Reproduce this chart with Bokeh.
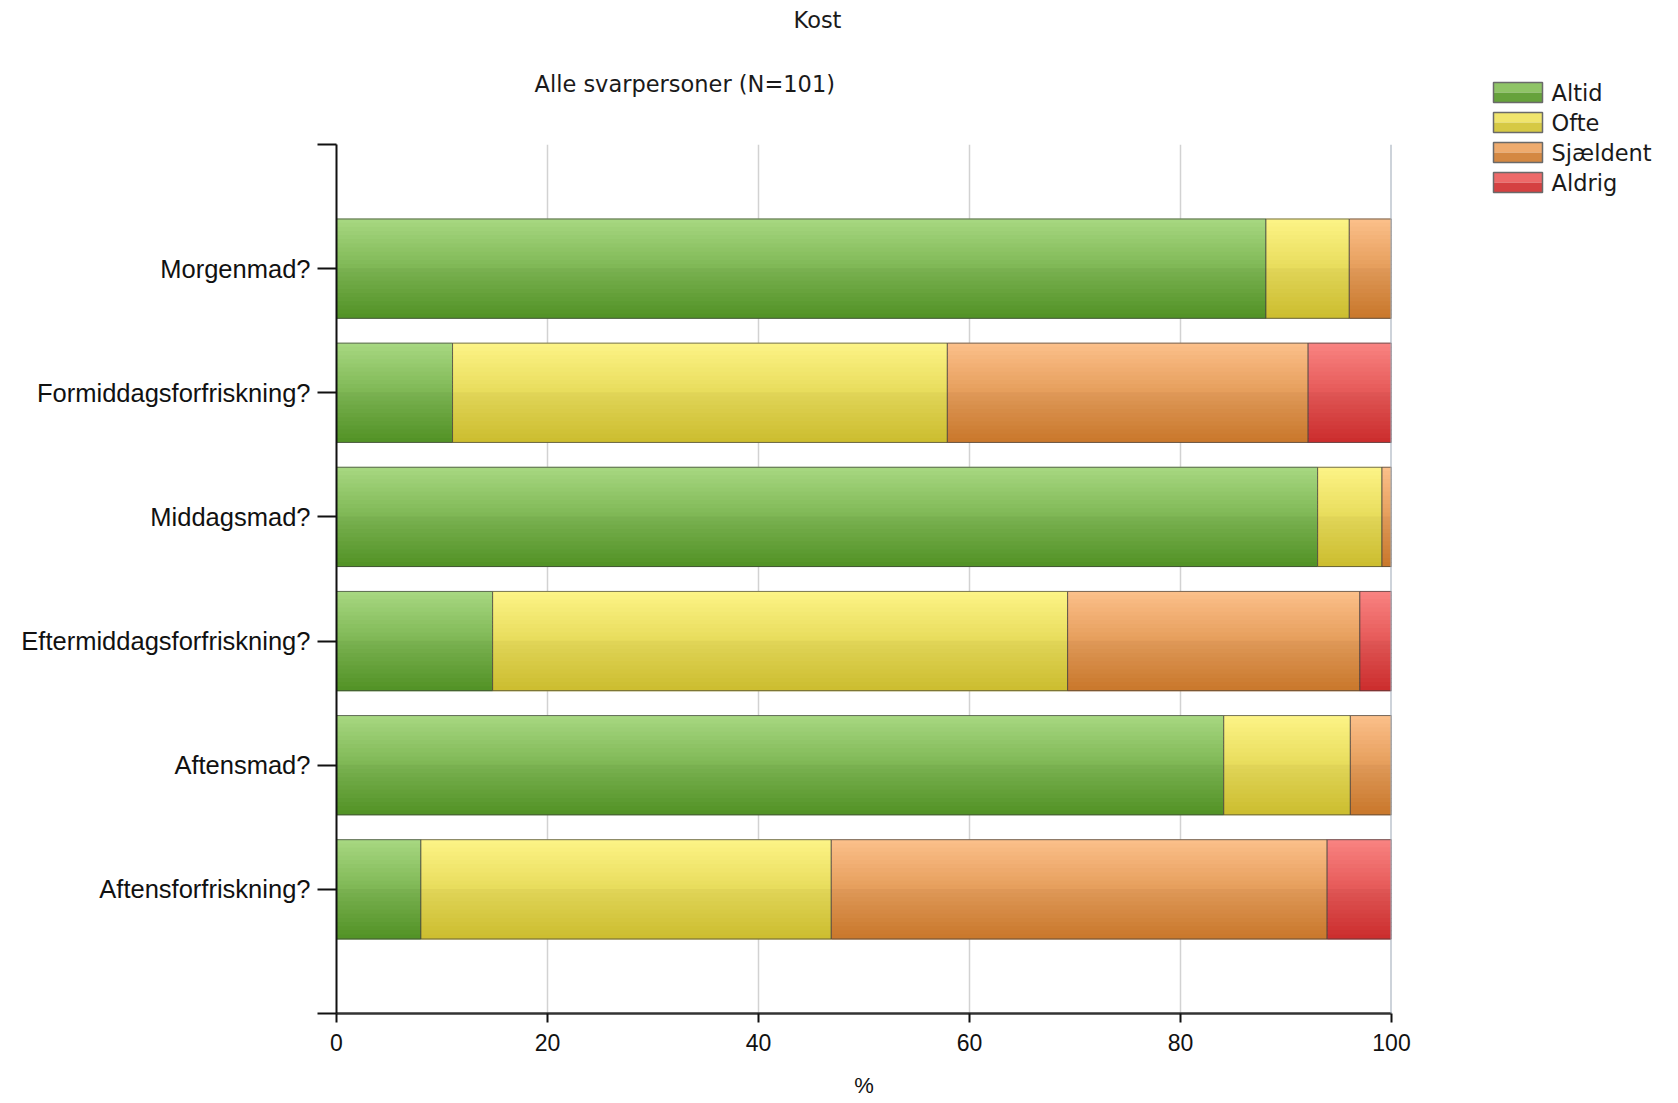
from bokeh.plotting import figure
from bokeh.models import ColumnDataSource, Span, FixedTicker, Range1d, Title
from bokeh.core.properties import value
from bokeh.layouts import row
from bokeh.embed import file_html
from bokeh.resources import INLINE

# ---- data ----
categories = ["Morgenmad?", "Formiddagsforfriskning?", "Middagsmad?",
              "Eftermiddagsforfriskning?", "Aftensmad?", "Aftensforfriskning?"]
series_names = ["Altid", "Ofte", "Sjældent", "Aldrig"]
altid = [88.1, 11.0, 93.0, 14.8, 84.1, 8.0]
ofte = [7.9, 46.9, 6.1, 54.5, 12.0, 38.9]
sjaeldent = [4.0, 34.2, 0.9, 27.7, 3.9, 47.0]
aldrig = [0.0, 7.9, 0.0, 3.0, 0.0, 6.1]
x_ticks = [0, 20, 40, 60, 80, 100]
title_text = "Kost"
subtitle_text = "Alle svarpersoner (N=101)"
x_label = "%"

# ---- styles ----
top_colors = [(168, 216, 130), (253, 244, 135), (252, 192, 139), (249, 132, 130)]
bottom_colors = [(84, 150, 38), (210, 195, 48), (207, 123, 44), (210, 46, 46)]
N_STRIPS = 24
BAR_H = 0.8
TITLE_FONT = "DejaVu Sans"
W_MAIN, W_LEG, H = 1480, 198, 1103

n = len(categories)
ypos = [n - i for i in range(n)]  # first category at the top
values = [altid, ofte, sjaeldent, aldrig]

p = figure(width=W_MAIN, height=H, output_backend="svg", toolbar_location=None,
           x_range=Range1d(0, 100), y_range=Range1d(0, n + 1),
           min_border_left=336, min_border_right=89, min_border_top=144,
           min_border_bottom=90)
p.outline_line_color = None
p.background_fill_color = "white"
p.border_fill_color = "white"
p.frame_align = False


def hexc(rgb):
    return "#%02x%02x%02x" % tuple(int(round(v)) for v in rgb)


def grad(k, t):
    col = [top_colors[k][c] + (bottom_colors[k][c] - top_colors[k][c]) * t for c in range(3)]
    if t >= 0.5:
        col = [v * 0.97 for v in col]
    return hexc(col)


# gradient strips
starts = [0.0] * n
for k, vals in enumerate(values):
    ys, ls, rs, cs = [], [], [], []
    sh = BAR_H / N_STRIPS
    for i in range(n):
        if vals[i] <= 0:
            continue
        left = starts[i]
        right = starts[i] + vals[i]
        for j in range(N_STRIPS):
            t = (j + 0.5) / N_STRIPS  # 0 top -> 1 bottom
            ys.append(ypos[i] + BAR_H / 2 - (j + 0.5) * sh)
            ls.append(left)
            rs.append(right)
            cs.append(grad(k, t))
    src = ColumnDataSource(dict(y=ys, left=ls, right=rs, color=cs))
    p.hbar(y="y", left="left", right="right", height=sh * 1.2, source=src,
           fill_color="color", line_color=None)
    # outlines
    oy, ol, orr = [], [], []
    for i in range(n):
        if vals[i] > 0:
            oy.append(ypos[i]); ol.append(starts[i]); orr.append(starts[i] + vals[i])
    p.hbar(y=oy, left=ol, right=orr, height=BAR_H, fill_alpha=0,
           line_color="#3c3c3c", line_alpha=0.7, line_width=1)
    for i in range(n):
        starts[i] += vals[i]

# grid
p.ygrid.grid_line_color = None
p.xgrid.ticker = FixedTicker(ticks=x_ticks)
p.xgrid.grid_line_color = "#d2d2d2"
p.xgrid.grid_line_width = 1.5
p.add_layout(Span(location=100, dimension="height", line_color="#9ba8b6", line_width=2))

# axes
p.xaxis.ticker = FixedTicker(ticks=x_ticks)
p.xaxis.axis_label = x_label
p.xaxis.axis_label_text_font = "Liberation Sans"
p.xaxis.axis_label_text_font_style = "normal"
p.xaxis.axis_label_text_font_size = "22px"
p.xaxis.axis_label_text_color = "#111111"
p.xaxis.axis_label_standoff = 19
p.xaxis.major_label_text_font = "Liberation Sans"
p.xaxis.major_label_text_font_size = "23px"
p.xaxis.major_label_text_color = "#111111"
p.xaxis.major_label_standoff = 11
p.xaxis.major_tick_out = 9
p.xaxis.major_tick_in = 0
p.xaxis.minor_tick_line_color = None
p.xaxis.axis_line_width = 2.5
p.xaxis.axis_line_color = "#333333"
p.xaxis.major_tick_line_width = 2
p.xaxis.major_tick_line_color = "#111111"

p.yaxis.ticker = FixedTicker(ticks=list(range(0, n + 2)))
overrides = {0: "", n + 1: ""}
for i, c in enumerate(categories):
    overrides[ypos[i]] = c
p.yaxis.major_label_overrides = overrides
p.yaxis.major_label_text_font = "Liberation Sans"
p.yaxis.major_label_text_font_size = "25.5px"
p.yaxis.major_label_text_color = "#111111"
p.yaxis.major_label_standoff = 7
p.yaxis.major_tick_out = 19
p.yaxis.major_tick_in = 0
p.yaxis.minor_tick_line_color = None
p.yaxis.axis_line_width = 2
p.yaxis.axis_line_color = "#111111"
p.yaxis.major_tick_line_width = 2
p.yaxis.major_tick_line_color = "#111111"

# titles (first added sits nearest the frame)
p.add_layout(Title(text=subtitle_text, align="left", offset=198, standoff=91,
                   vertical_align="top",
                   text_font=TITLE_FONT, text_font_size="22.5px",
                   text_font_style="normal", text_color="#1a1a1a"), "above")
p.add_layout(Title(text=title_text, align="left", offset=457, standoff=-15,
                   vertical_align="bottom",
                   text_font=TITLE_FONT, text_font_size="22.5px",
                   text_font_style="normal", text_color="#1a1a1a"), "above")

# legend panel (drawn with glyphs; coordinates = pixels from the page's top-left)
lg = figure(width=W_LEG, height=H, output_backend="svg", toolbar_location=None,
            x_range=Range1d(W_MAIN, W_MAIN + W_LEG), y_range=Range1d(H, 0),
            x_axis_location=None, y_axis_location=None, min_border=0)
lg.outline_line_color = None
lg.grid.grid_line_color = None
lg.title.visible = False
lg.frame_align = False

LEG_TOP, LEG_PITCH, SW_H = 82, 30, 20
SW_LEFT, SW_W, TXT_GAP = 1493, 49, 9
idx = list(range(len(series_names)))
sw_top = [LEG_TOP + LEG_PITCH * i for i in idx]
lsrc = ColumnDataSource(dict(
    left=[SW_LEFT] * len(idx), right=[SW_LEFT + SW_W] * len(idx),
    top=sw_top, bottom=[t + SW_H for t in sw_top], name=series_names,
    tx=[SW_LEFT + SW_W + TXT_GAP] * len(idx), ty=[t + SW_H / 2 for t in sw_top]))
lsrc_top = ColumnDataSource(dict(
    left=[SW_LEFT] * len(idx), right=[SW_LEFT + SW_W] * len(idx),
    top=sw_top, bottom=[t + SW_H / 2 for t in sw_top],
    color=[grad(k, 0.3) for k in idx]))
lsrc_bot = ColumnDataSource(dict(
    left=[SW_LEFT] * len(idx), right=[SW_LEFT + SW_W] * len(idx),
    top=[t + SW_H / 2 for t in sw_top], bottom=[t + SW_H for t in sw_top],
    color=[grad(k, 0.75) for k in idx]))
lg.quad(left="left", right="right", top="top", bottom="bottom", source=lsrc_top,
        fill_color="color", line_color=None)
lg.quad(left="left", right="right", top="top", bottom="bottom", source=lsrc_bot,
        fill_color="color", line_color=None)
lg.quad(left="left", right="right", top="top", bottom="bottom", source=lsrc,
        fill_alpha=0, line_color="#6a6a6a", line_width=1.5)
lg.text(x="tx", y="ty", text="name", source=lsrc, text_font=value(TITLE_FONT),
        text_font_size="22.5px", text_color="#1a1a1a", text_baseline="middle",
        text_align="left")

layout = row(p, lg)
open("out.html", "w").write(file_html(layout, INLINE))
